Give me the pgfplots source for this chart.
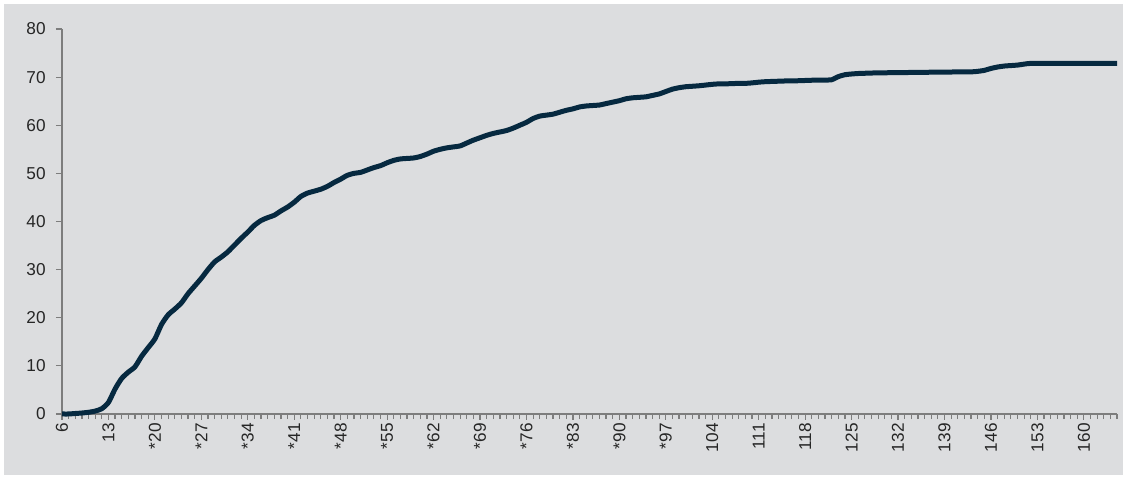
\documentclass[border=0pt]{standalone}
\usepackage{fontspec}
\setmainfont{Liberation Sans}
\usepackage{pgfplots}
\pgfplotsset{compat=1.18}
\usetikzlibrary{backgrounds}
\definecolor{bgray}{RGB}{220,221,223}
\definecolor{navy}{RGB}{6,41,64}
\definecolor{axgray}{RGB}{125,125,125}
\definecolor{txt}{RGB}{38,38,38}

\pgfplotstableread{
x y
6 0
7 0
8 0.1
9 0.2
10 0.35
11 0.6
12 1.1
13 2.4
14 5.2
15 7.4
16 8.7
17 9.8
18 12.0
19 13.8
20 15.6
21 18.6
22 20.6
23 21.8
24 23.1
25 25.0
26 26.6
27 28.2
28 30.0
29 31.6
30 32.6
31 33.7
32 35.1
33 36.5
34 37.8
35 39.2
36 40.2
37 40.8
38 41.3
39 42.2
40 43.0
41 44.0
42 45.2
43 45.9
44 46.3
45 46.7
46 47.3
47 48.1
48 48.8
49 49.6
50 50.0
51 50.2
52 50.7
53 51.2
54 51.6
55 52.2
56 52.7
57 53.0
58 53.1
59 53.2
60 53.5
61 54.0
62 54.6
63 55.0
64 55.3
65 55.5
66 55.7
67 56.3
68 56.9
69 57.4
70 57.9
71 58.3
72 58.6
73 58.9
74 59.4
75 60.0
76 60.6
77 61.4
78 61.9
79 62.1
80 62.3
81 62.7
82 63.1
83 63.4
84 63.8
85 64.0
86 64.1
87 64.2
88 64.5
89 64.8
90 65.1
91 65.5
92 65.7
93 65.8
94 65.9
95 66.2
96 66.5
97 67.0
98 67.5
99 67.8
100 68.0
101 68.1
102 68.2
103 68.35
104 68.5
105 68.6
106 68.6
107 68.65
108 68.7
109 68.7
110 68.8
111 68.95
112 69.05
113 69.1
114 69.15
115 69.2
116 69.2
117 69.25
118 69.3
119 69.35
120 69.4
121 69.4
122 69.45
123 70.1
124 70.5
125 70.65
126 70.75
127 70.8
128 70.85
130 70.9
133 70.95
136 71.0
139 71.05
143 71.1
144 71.2
145 71.4
146 71.8
147 72.1
148 72.3
149 72.4
150 72.5
151 72.7
152 72.85
155 72.85
160 72.85
165 72.85
}\cumdata

\begin{document}
\begin{tikzpicture}
\begin{axis}[name=ax,
    scale only axis, width=527.5pt, height=192.5pt,
    xmin=6, xmax=165, ymin=0, ymax=80,
    axis lines=left, axis line style={-, axgray, line width=0.7pt},
    xtick={6,13,...,160},
    xticklabels={6,13,*20,*27,*34,*41,*48,*55,*62,*69,*76,*83,*90,*97,104,111,118,125,132,139,146,153,160},
    minor xtick={6,...,165},
    ytick={0,10,...,80},
    tick align=outside, major tick length=3pt, minor tick length=2.6pt,
    tick style={axgray, line width=0.6pt},
    ticklabel style={font=\fontsize{8.6}{9.5}\selectfont, text=txt},
    xticklabel style={rotate=90, anchor=east, inner sep=1pt, xshift=-0.5pt},
    yticklabel style={inner sep=1pt, xshift=-4pt},
    /pgf/number format/assume math mode=true,
    clip=false]
  \addplot[navy, line width=2.5pt, smooth, tension=0.4, no marks] table[x=x, y=y] {\cumdata};
\end{axis}
\begin{scope}[on background layer]
  \fill[white] ([shift={(-31pt,-31.5pt)}]ax.south west) rectangle ([shift={(4pt,14.5pt)}]ax.north east);
  \fill[bgray] ([shift={(-29pt,-30.5pt)}]ax.south west) rectangle ([shift={(3pt,12.5pt)}]ax.north east);
\end{scope}
\end{tikzpicture}
\end{document}
